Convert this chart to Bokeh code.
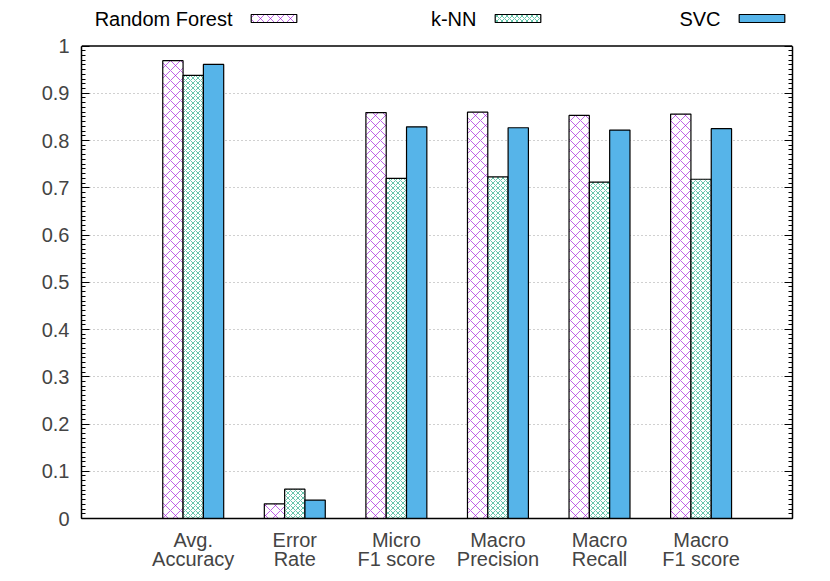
import numpy as np
from bokeh.plotting import figure
from bokeh.models import (Range1d, FixedTicker, LinearAxis, Legend, LegendItem, Label, Span)
from bokeh.embed import file_html
from bokeh.resources import INLINE

# ---- data ----
categories = ["Avg.\nAccuracy", "Error\nRate", "Micro\nF1 score",
              "Macro\nPrecision", "Macro\nRecall", "Macro\nF1 score"]
series_names = ["Random Forest", "k-NN", "SVC"]
random_forest = [0.969, 0.031, 0.859, 0.860, 0.853, 0.856]
knn = [0.938, 0.062, 0.720, 0.723, 0.712, 0.718]
svc = [0.961, 0.039, 0.829, 0.827, 0.822, 0.825]
y_ticks = [0, 0.1, 0.2, 0.3, 0.4, 0.5, 0.6, 0.7, 0.8, 0.9, 1]
y_tick_labels = ["0", "0.1", "0.2", "0.3", "0.4", "0.5", "0.6", "0.7", "0.8", "0.9", "1"]

FONT = "Liberation Sans"
FS = "20px"
Y_TOP = 1.0963  # extra headroom inside the frame for the key

p = figure(width=830, height=581, output_backend="svg", toolbar_location=None,
           x_range=Range1d(-1.1, 5.9), y_range=Range1d(0, Y_TOP),
           min_border_left=81, min_border_right=38, min_border_top=0,
           min_border_bottom=63, x_axis_location=None, y_axis_location=None)
p.outline_line_color = None
p.background_fill_color = "white"
p.border_fill_color = "white"

idx = np.arange(len(categories))
bw = 0.2
r_rf = p.vbar(x=idx - bw, top=random_forest, width=bw, bottom=0,
              fill_color="white", line_color="black", line_width=1.2,
              hatch_pattern="diagonal_cross", hatch_color="#9400d3",
              hatch_alpha=0.6, hatch_scale=10, hatch_weight=1)
r_knn = p.vbar(x=idx, top=knn, width=bw, bottom=0,
               fill_color="white", line_color="black", line_width=1.2,
               hatch_pattern="diagonal_cross", hatch_color="#009e73",
               hatch_alpha=0.6, hatch_scale=5, hatch_weight=1)
r_svc = p.vbar(x=idx + bw, top=svc, width=bw, bottom=0,
               fill_color="#56b4e9", line_color="black", line_width=1.2)

minor = list(np.round(np.arange(0, 1.0001, 0.01), 2))
yt = FixedTicker(ticks=y_ticks, minor_ticks=minor)

for loc, show in (("left", True), ("right", False)):
    ax = LinearAxis(ticker=yt, bounds=(0, 1))
    ax.axis_line_color = "black"
    ax.axis_line_width = 1.5
    ax.major_tick_in = 8
    ax.major_tick_out = 0
    ax.minor_tick_in = 4
    ax.minor_tick_out = 0
    ax.major_tick_line_color = "black"
    ax.minor_tick_line_color = "black"
    ax.major_label_text_font = FONT
    ax.major_label_text_font_size = FS
    if show:
        ax.major_label_overrides = dict(zip(y_ticks, y_tick_labels))
        ax.major_label_standoff = 12
    else:
        ax.major_label_overrides = {t: "" for t in y_ticks}
        ax.major_label_standoff = 0
    p.add_layout(ax, loc)

xax = LinearAxis(ticker=FixedTicker(ticks=list(idx)))
xax.major_label_overrides = {int(i): c for i, c in zip(idx, categories)}
xax.axis_line_color = "black"
xax.axis_line_width = 1.5
xax.major_tick_line_color = None
xax.minor_tick_line_color = None
xax.major_label_text_font = FONT
xax.major_label_text_font_size = FS
xax.major_label_text_line_height = 0.87
xax.major_label_standoff = 4
p.add_layout(xax, "below")

# top border of the plot box at y = 1
p.add_layout(Span(location=1, dimension="width", line_color="black", line_width=1.5))

p.xgrid.visible = False
p.ygrid.ticker = FixedTicker(ticks=y_ticks[1:-1])
p.ygrid.grid_line_color = "#a0a0a0"
p.ygrid.grid_line_dash = "1 3"
p.ygrid.grid_line_width = 1

# key: text followed by swatch (gnuplot style)
swatch_x = [164, 408, 652]
for name, r, sx in zip(series_names, [r_rf, r_knn, r_svc], swatch_x):
    lg = Legend(items=[LegendItem(label=" ", renderers=[r])],
                location=(sx, 495), orientation="horizontal",
                glyph_width=57, glyph_height=10, label_height=10, label_width=0,
                label_standoff=0, padding=0, margin=0, spacing=0,
                border_line_color=None, background_fill_alpha=0,
                label_text_font_size="8px")
    p.add_layout(lg, "center")
    p.add_layout(Label(x=sx - 13, y=500, x_units="screen", y_units="screen",
                       text=name, text_align="right", text_baseline="middle",
                       text_font=FONT, text_font_size=FS, text_color="black"))

open("out.html", "w").write(file_html(p, INLINE))
